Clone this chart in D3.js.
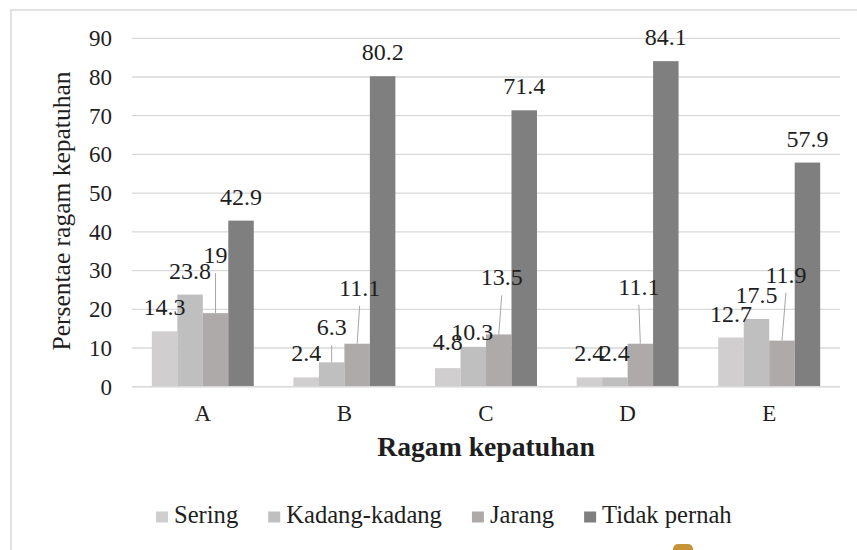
<!DOCTYPE html>
<html>
<head>
<meta charset="utf-8">
<script src="https://cdn.jsdelivr.net/npm/d3@7"></script>
<style>
  html, body { margin: 0; padding: 0; background: #fff; }
  svg { display: block; }
  text { font-family: "Liberation Serif", "Times New Roman", serif; fill: #1e1e1e; }
</style>
</head>
<body>
<svg id="chart" width="857" height="550"></svg>
<script>
// ---- data ----
const categories = ["A", "B", "C", "D", "E"];
const seriesNames = ["Sering", "Kadang-kadang", "Jarang", "Tidak pernah"];
const sering = [14.3, 2.4, 4.8, 2.4, 12.7];
const kadangKadang = [23.8, 6.3, 10.3, 2.4, 17.5];
const jarang = [19, 11.1, 13.5, 11.1, 11.9];
const tidakPernah = [42.9, 80.2, 71.4, 84.1, 57.9];
const yTickValues = [0, 10, 20, 30, 40, 50, 60, 70, 80, 90];
const yTitle = "Persentae ragam kepatuhan";
const xTitle = "Ragam kepatuhan";

// ---- layout / style (not data) ----
const colors = ["#d0cece", "#bfbfbf", "#aeaaaa", "#7f7f7f"];
// manual label nudges in pixels [dx, dy, leaderLine]
const labelNudge = {
  "A|Jarang": [0, -34, true],
  "B|Kadang-kadang": [0, -11, true],
  "B|Jarang": [2.5, -32, true],
  "C|Sering": [0, -2, false],
  "C|Kadang-kadang": [-1, 9, false],
  "C|Jarang": [3, -33, true],
  "D|Jarang": [-1.5, -33, true],
  "E|Jarang": [4, -42, true]
};

(function () {
const FF = "Liberation Serif";
const TXT = "#1e1e1e";
const allSeries = [sering, kadangKadang, jarang, tidakPernah];
const rows = [];
categories.forEach((c, i) => {
  seriesNames.forEach((s, j) => rows.push({ cat: c, series: s, value: allSeries[j][i], idx: j }));
});

const svg = d3.select("#chart");

// frame
svg.append("rect").attr("x", 11).attr("y", 10).attr("width", 860).attr("height", 560)
  .attr("fill", "none").attr("stroke", "#d9d9d9").attr("stroke-width", 1.5);

const pLeft = 132, pRight = 840, pTop = 38.3, pBottom = 386.7;
const x0 = d3.scaleBand().domain(categories).range([pLeft, pRight]).paddingInner(0.28).paddingOuter(0.14);
const x1 = d3.scaleBand().domain(seriesNames).range([0, x0.bandwidth()]);
const y = d3.scaleLinear().domain([0, 90]).range([pBottom, pTop]);

// gridlines
svg.append("g").selectAll("line").data(yTickValues).join("line")
  .attr("x1", pLeft).attr("x2", pRight)
  .attr("y1", d => y(d)).attr("y2", d => y(d))
  .attr("stroke", "#d9d9d9").attr("stroke-width", 1.3);

// y axis labels
const yAxis = d3.axisLeft(y).tickValues(yTickValues).tickSize(0).tickPadding(0).tickFormat(d3.format("d"));
const gy = svg.append("g").attr("transform", `translate(112,0)`).call(yAxis);
gy.select(".domain").remove();
gy.attr("font-family", FF);
gy.selectAll("text").attr("font-size", 23).attr("font-family", FF).attr("fill", TXT);

// bars
svg.append("g").selectAll("rect").data(rows).join("rect")
  .attr("x", d => x0(d.cat) + x1(d.series))
  .attr("width", x1.bandwidth())
  .attr("y", d => y(d.value))
  .attr("height", d => y(0) - y(d.value))
  .attr("fill", d => colors[d.idx]);

// baseline
svg.append("line").attr("x1", pLeft).attr("x2", pRight).attr("y1", y(0)).attr("y2", y(0))
  .attr("stroke", "#d9d9d9").attr("stroke-width", 1.5);

// x axis labels
const xAxis = d3.axisBottom(x0).tickSize(0).tickPadding(0);
const gx = svg.append("g").attr("transform", `translate(0,405)`).call(xAxis);
gx.select(".domain").remove();
gx.attr("font-family", FF);
gx.selectAll("text").attr("font-size", 23).attr("font-family", FF).attr("fill", TXT).attr("dy", "0.71em");

// data labels
const lbl = svg.append("g");
rows.forEach(d => {
  const bx = x0(d.cat) + x1(d.series) + x1.bandwidth() / 2;
  const by = y(d.value);
  const n = labelNudge[d.cat + "|" + d.series] || [0, 0, false];
  const tx = bx + n[0];
  const ty = by - 16 + n[1];
  if (n[2]) {
    lbl.append("line").attr("x1", tx).attr("y1", ty + 10).attr("x2", bx).attr("y2", by)
      .attr("stroke", "#a6a6a6").attr("stroke-width", 1);
  }
  lbl.append("text").attr("x", tx).attr("y", ty).attr("text-anchor", "middle")
    .attr("font-size", 24).attr("fill", TXT).text(d.value);
});

// axis titles
svg.append("text").attr("transform", "translate(70,211) rotate(-90)")
  .attr("text-anchor", "middle").attr("font-size", 25.5).attr("fill", TXT).text(yTitle);
svg.append("text").attr("x", 486).attr("y", 456).attr("text-anchor", "middle")
  .attr("font-size", 27.7).attr("font-weight", "bold").attr("fill", TXT).text(xTitle);

// legend
const lg = svg.append("g");
let lx = 156;
seriesNames.forEach((s, j) => {
  lg.append("rect").attr("x", lx).attr("y", 511.5).attr("width", 12).attr("height", 11).attr("fill", colors[j]);
  const t = lg.append("text").attr("x", lx + 18).attr("y", 523).attr("font-size", 24.6).attr("fill", TXT).text(s);
  lx = lx + 18 + t.node().getComputedTextLength() + 30;
});

// small orange mark at bottom (artifact in reference)
svg.append("rect").attr("x", 673).attr("y", 544).attr("width", 20).attr("height", 14).attr("rx", 5)
  .attr("fill", "#c8943a");
})();
</script>
</body>
</html>
